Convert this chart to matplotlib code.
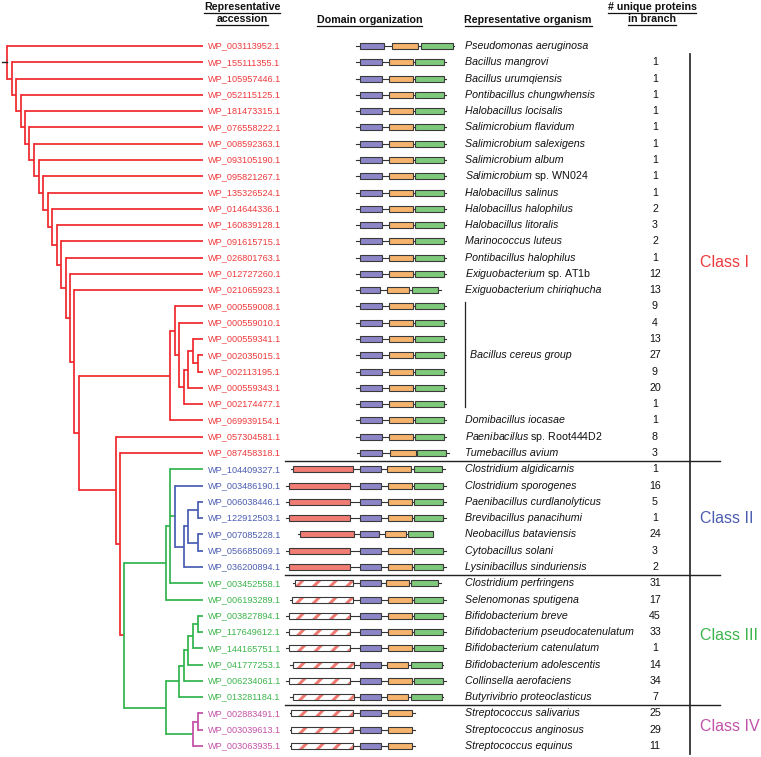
import matplotlib
matplotlib.use('Agg')
import matplotlib.pyplot as plt
from matplotlib.patches import Rectangle

plt.rcParams['font.family'] = ['Liberation Sans', 'DejaVu Sans']
plt.rcParams['mathtext.fontset'] = 'custom'
plt.rcParams['mathtext.it'] = 'Liberation Sans:italic'
plt.rcParams['mathtext.rm'] = 'Liberation Sans'
plt.rcParams['hatch.linewidth'] = 2.2

# ── data ─────────────────────────────────────────────────────────────
ACCESSIONS = [
    'WP_003113952.1', 'WP_155111355.1', 'WP_105957446.1', 'WP_052115125.1',
    'WP_181473315.1', 'WP_076558222.1', 'WP_008592363.1', 'WP_093105190.1',
    'WP_095821267.1', 'WP_135326524.1', 'WP_014644336.1', 'WP_160839128.1',
    'WP_091615715.1', 'WP_026801763.1', 'WP_012727260.1', 'WP_021065923.1',
    'WP_000559008.1', 'WP_000559010.1', 'WP_000559341.1', 'WP_002035015.1',
    'WP_002113195.1', 'WP_000559343.1', 'WP_002174477.1', 'WP_069939154.1',
    'WP_057304581.1', 'WP_087458318.1', 'WP_104409327.1', 'WP_003486190.1',
    'WP_006038446.1', 'WP_122912503.1', 'WP_007085228.1', 'WP_056685069.1',
    'WP_036200894.1', 'WP_003452558.1', 'WP_006193289.1', 'WP_003827894.1',
    'WP_117649612.1', 'WP_144165751.1', 'WP_041777253.1', 'WP_006234061.1',
    'WP_013281184.1', 'WP_002883491.1', 'WP_003039613.1', 'WP_003063935.1',
]
ORGANISMS = [
    'Pseudomonas aeruginosa', 'Bacillus mangrovi', 'Bacillus urumqiensis',
    'Pontibacillus chungwhensis', 'Halobacillus locisalis', 'Salimicrobium flavidum',
    'Salimicrobium salexigens', 'Salimicrobium album', 'Salimicrobium sp. WN024',
    'Halobacillus salinus', 'Halobacillus halophilus', 'Halobacillus litoralis',
    'Marinococcus luteus', 'Pontibacillus halophilus', 'Exiguobacterium sp. AT1b',
    'Exiguobacterium chiriqhucha', '', '', '', '', '', '', '',
    'Domibacillus iocasae', 'Paenibacillus sp. Root444D2', 'Tumebacillus avium',
    'Clostridium algidicarnis', 'Clostridium sporogenes',
    'Paenibacillus curdlanolyticus', 'Brevibacillus panacihumi',
    'Neobacillus bataviensis', 'Cytobacillus solani', 'Lysinibacillus sinduriensis',
    'Clostridium perfringens', 'Selenomonas sputigena', 'Bifidobacterium breve',
    'Bifidobacterium pseudocatenulatum', 'Bifidobacterium catenulatum',
    'Bifidobacterium adolescentis', 'Collinsella aerofaciens',
    'Butyrivibrio proteoclasticus', 'Streptococcus salivarius',
    'Streptococcus anginosus', 'Streptococcus equinus',
]
COUNTS = [None, 1, 1, 1, 1, 1, 1, 1, 1, 1, 2, 3, 2, 1, 12, 13, 9, 4, 13, 27, 9,
          20, 1, 1, 8, 3, 1, 16, 5, 1, 24, 3, 2, 31, 17, 45, 33, 1, 14, 34, 7,
          25, 29, 11]
GROUP_NAME = 'Bacillus cereus group'
GROUP_ROWS = (16, 22)

CLASS_NAMES = ['Class I', 'Class II', 'Class III', 'Class IV']
CLASS_ROWS = [(0, 25), (26, 32), (33, 40), (41, 43)]   # first / last row

# tree (aligned tips, internal branch lengths only)
_BC = ('((WP_000559008.1,(WP_000559010.1,(((WP_000559341.1,'
       '(WP_002035015.1,WP_002113195.1):2.5):2.6,WP_000559343.1):2.3,'
       'WP_002174477.1):2.3):2.2):2.5,WP_069939154.1):46.5')
_C2 = ('((WP_104409327.1,(WP_003486190.1,((((WP_006038446.1,WP_122912503.1):5.1,'
       '(WP_007085228.1,WP_056685069.1):5.1):2.3,WP_036200894.1):2.3):2.2):2.5,'
       'WP_003452558.1):2.2,WP_006193289.1):21.2')
_C3 = ('((((((WP_003827894.1,WP_117649612.1):2.5,WP_144165751.1):2.6,'
       'WP_041777253.1):2.3,WP_006234061.1):2.3,WP_013281184.1):6.9,'
       '((WP_002883491.1,WP_003039613.1):2.5,WP_003063935.1):14.1):21.2')
_REST = '(WP_057304581.1,(WP_087458318.1,(' + _C2 + ',' + _C3 + '):2.1):2.2):18.8'
NEWICK = ('(WP_003113952.1,(WP_155111355.1,(WP_105957446.1,(WP_052115125.1,'
          '(WP_181473315.1,(WP_076558222.1,(WP_008592363.1,(WP_093105190.1,'
          '(WP_095821267.1,(WP_135326524.1,(WP_014644336.1,(WP_160839128.1,'
          '(WP_091615715.1,(WP_026801763.1,(WP_012727260.1,(WP_021065923.1,'
          '(' + _BC + ',' + _REST + '):2.5):2.1):2.2):2.3):2.2):2.3):2.3):2.3)'
          ':2.3):2.6):2.2):2.2):2.2):2.4):2.2):2.4);')

# domain architectures, residues: (length, [(kind, start, end), ...])
ARCH = {
    'pseudo': (490, [('P', 17, 137), ('O', 178, 311), ('G', 325, 482)]),
    'std':    (450, [('P', 18, 130), ('O', 163, 285), ('G', 293, 438)]),
    'exig':   (425, [('P', 17, 120), ('O', 153, 266), ('G', 280, 411)]),
    'tume':   (460, [('P', 15, 127), ('O', 165, 295), ('G', 300, 448)]),
    'c2':     (797, [('N', 13, 320), ('P', 366, 475), ('O', 507, 630), ('G', 636, 781)]),
    'c2b':    (767, [('N', 8, 308), ('P', 342, 450), ('O', 480, 600), ('G', 612, 753)]),
    'neo':    (679, [('N', 13, 283), ('P', 310, 408), ('O', 435, 540), ('G', 552, 675)]),
    'c3a':    (742, [('H', 12, 303), ('P', 333, 440), ('O', 467, 583), ('G', 592, 728)]),
    'c3b':    (780, [('H', 12, 317), ('P', 350, 458), ('O', 490, 613), ('G', 620, 765)]),
    'c3c':    (797, [('H', 13, 317), ('P', 366, 475), ('O', 507, 630), ('G', 636, 781)]),
    'c3d':    (765, [('H', 12, 317), ('P', 347, 455), ('O', 483, 591), ('G', 605, 758)]),
    'c4':     (628, [('H', 8, 315), ('P', 350, 458), ('O', 493, 613)]),
}
ROW_ARCH = (['pseudo'] + ['std'] * 14 + ['exig'] + ['std'] * 9 + ['tume', 'c2b']
            + ['c2'] * 3 + ['neo'] + ['c2'] * 2 + ['c3a', 'c3b'] + ['c3c'] * 3
            + ['c3d', 'c3c', 'c3d'] + ['c4'] * 3)

# ── layout / style ───────────────────────────────────────────────────
W, H = 761, 757
ROW_TOP, ROW_STEP = 46.0, 16.28
ROOT_X, TREE_SCALE, TIP_X = 7.0, 1.96, 203.0
LABEL_X = 208.0
ANCHOR_X, AA_PX, BOX_H = 359.5, 0.2, 6.0
ORG_X, COUNT_X, SEP_X, CLASS_X = 465.0, 655.0, 690.0, 700.0
CLASS_LABEL_ROW = [13.3, 29.0, 36.2, 41.8]

TREE_COL = ['#f0282d', '#4a5db2', '#30b44b', '#c24ea7']
TEXT_COL = ['#ee3a3c', '#4b5db0', '#3cb44c', '#c252a8']
DOM_COL = {'P': '#8c86c8', 'O': '#f6b36d', 'G': '#7fc97b', 'N': '#f07c74'}
HATCH_COL = '#ef7a72'
EDGE = '#3a3a3a'


def row_y(i):
    return ROW_TOP + i * ROW_STEP


def class_of(i):
    for k, (a, b) in enumerate(CLASS_ROWS):
        if a <= i <= b:
            return k
    return 0


def parse_newick(s):
    pos = 0

    def node():
        nonlocal pos
        kids, name = [], ''
        if s[pos] == '(':
            pos += 1
            kids.append(node())
            while s[pos] == ',':
                pos += 1
                kids.append(node())
            pos += 1
        else:
            start = pos
            while s[pos] not in ',():;':
                pos += 1
            name = s[start:pos]
        length = 0.0
        if s[pos] == ':':
            pos += 1
            start = pos
            while s[pos] not in ',();':
                pos += 1
            length = float(s[start:pos])
        return {'name': name, 'len': length, 'kids': kids}

    return node()


def layout(nd, depth):
    if not nd['kids']:
        i = ACCESSIONS.index(nd['name'])
        nd['x'], nd['y'] = TIP_X, row_y(i)
        nd['cls'] = {class_of(i)}
        return
    d = depth + nd['len']
    nd['x'] = ROOT_X + d * TREE_SCALE
    for k in nd['kids']:
        layout(k, d)
    nd['y'] = (nd['kids'][0]['y'] + nd['kids'][-1]['y']) / 2
    nd['cls'] = set().union(*[k['cls'] for k in nd['kids']])


def node_color(nd):
    if 0 in nd['cls']:
        return TREE_COL[0]
    if len(nd['cls']) == 1:
        return TREE_COL[next(iter(nd['cls']))]
    return TREE_COL[2]


def draw_tree(ax, nd):
    if not nd['kids']:
        return
    c = node_color(nd)
    ax.plot([nd['x'], nd['x']], [nd['kids'][0]['y'], nd['kids'][-1]['y']],
            color=c, lw=1.25, solid_capstyle='projecting')
    for k in nd['kids']:
        ax.plot([nd['x'], k['x']], [k['y'], k['y']], color=c, lw=1.25,
                solid_capstyle='butt')
        draw_tree(ax, k)


fig = plt.figure(figsize=(W / 100, H / 100), dpi=100)
ax = fig.add_axes([0, 0, 1, 1])
ax.set_xlim(0, W)
ax.set_ylim(H, 0)
ax.axis('off')

# tree
tree = parse_newick(NEWICK)
layout(tree, 0.0)
draw_tree(ax, tree)
ax.plot([tree['x'] - 5, tree['x']], [tree['y'], tree['y']], color='#222222', lw=1.0)

# rows
for i, acc in enumerate(ACCESSIONS):
    y = row_y(i)
    k = class_of(i)
    ax.text(LABEL_X, y, acc, fontsize=6.6, color=TEXT_COL[k], va='center', ha='left')

    length, doms = ARCH[ROW_ARCH[i]]
    p_start = [d[1] for d in doms if d[0] == 'P'][0]
    x0 = ANCHOR_X - p_start * AA_PX
    ax.plot([x0, x0 + length * AA_PX], [y, y], color='#333333', lw=0.8, zorder=2)
    for kind, s, e in doms:
        xs, w = x0 + s * AA_PX, (e - s) * AA_PX
        if kind == 'H':
            ax.add_patch(Rectangle((xs, y - BOX_H / 2), w, BOX_H, facecolor='white',
                                   edgecolor=HATCH_COL, lw=0, hatch='//', zorder=3))
            ax.add_patch(Rectangle((xs, y - BOX_H / 2), w, BOX_H, fill=False,
                                   edgecolor=EDGE, lw=0.8, zorder=4))
        else:
            ax.add_patch(Rectangle((xs, y - BOX_H / 2), w, BOX_H, facecolor=DOM_COL[kind],
                                   edgecolor=EDGE, lw=0.8, zorder=3))

    org = ORGANISMS[i]
    if org:
        if ' sp. ' in org:
            genus, rest = org.split(' sp. ')
            ax.text(ORG_X, y, r'$\mathit{' + genus + '}$ sp. ' + rest, fontsize=7.7,
                    va='center', ha='left', color='#111111')
        else:
            ax.text(ORG_X, y, org, fontsize=7.7, style='italic', va='center',
                    ha='left', color='#111111')
    if COUNTS[i] is not None:
        ax.text(COUNT_X, y, str(COUNTS[i]), fontsize=7.7, va='center', ha='center',
                color='#111111')

# Bacillus cereus group bracket
g0, g1 = GROUP_ROWS
ax.plot([ORG_X, ORG_X], [row_y(g0) - 4.5, row_y(g1) + 3], color='#222222', lw=0.9)
ax.text(ORG_X + 5, (row_y(g0) + row_y(g1)) / 2, GROUP_NAME, fontsize=7.7,
        style='italic', va='center', ha='left', color='#111111')

# class separators and labels
ax.plot([SEP_X, SEP_X], [row_y(1) - ROW_STEP / 2, row_y(len(ACCESSIONS) - 1) + ROW_STEP / 2],
        color='#333333', lw=1.3)
for k, (a, b) in enumerate(CLASS_ROWS):
    if k > 0:
        ys = (row_y(a - 1) + row_y(a)) / 2
        ax.plot([285, 720], [ys, ys], color='#222222', lw=1.0)
    ax.text(CLASS_X, row_y(CLASS_LABEL_ROW[k]), CLASS_NAMES[k], fontsize=11.5,
            color=TEXT_COL[k], va='center', ha='left')

# headers
headers = [
    (242, 7, 'Representative', 'center'), (242, 19, 'accession', 'center'),
    (369.5, 20, 'Domain organization', 'center'),
    (464.5, 20, 'Representative organism', 'left'),
    (652, 7, '# unique proteins', 'center'), (652, 19, 'in branch', 'center'),
]
htexts = [ax.text(x, y, t, fontsize=7.7, fontweight='bold', ha=ha, va='center',
                  color='#111111') for x, y, t, ha in headers]
fig.canvas.draw()
inv = ax.transData.inverted()
for t in htexts:
    bb = t.get_window_extent()
    (xa, ya), (xb, _) = inv.transform([(bb.x0, bb.y0), (bb.x1, bb.y0)])
    ax.plot([xa, xb], [ya + 0.5, ya + 0.5], color='#111111', lw=0.9)

fig.savefig('out.png', dpi=100)
